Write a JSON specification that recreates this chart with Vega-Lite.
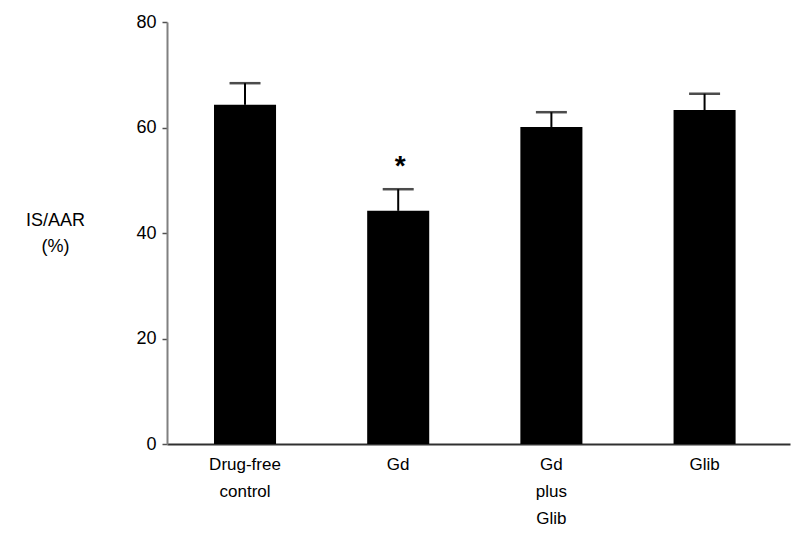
{
  "$schema": "https://vega.github.io/schema/vega-lite/v6.json",
  "autosize": "none",
  "width": 623,
  "height": 422,
  "padding": {"left": 167, "top": 22, "right": 10, "bottom": 100},
  "background": "white",
  "config": {
    "view": {"stroke": null},
    "font": "Liberation Sans"
  },
  "data": {
    "values": [
      {"group": "Drug-free control", "value": 64.3, "err": 68.4, "sig": ""},
      {"group": "Gd", "value": 44.2, "err": 48.3, "sig": "*"},
      {"group": "Gd plus Glib", "value": 60.1, "err": 62.9, "sig": ""},
      {"group": "Glib", "value": 63.3, "err": 66.4, "sig": ""}
    ]
  },
  "encoding": {
    "x": {
      "field": "group",
      "type": "nominal",
      "sort": null,
      "scale": {"paddingInner": 0.595, "paddingOuter": 0.331, "align": 0.4635},
      "axis": {
        "title": null,
        "labelAngle": 0,
        "ticks": false,
        "domainColor": "#303030",
        "domainWidth": 2,
        "labelFont": "Liberation Sans",
        "labelFontSize": 17,
        "labelColor": "black",
        "labelBaseline": "top",
        "labelPadding": 12,
        "labelLineHeight": 27,
        "labelExpr": "datum.value == 'Drug-free control' ? ['Drug-free', 'control'] : datum.value == 'Gd plus Glib' ? ['Gd', 'plus', 'Glib'] : datum.value"
      }
    }
  },
  "layer": [
    {
      "mark": {"type": "bar", "color": "black"},
      "encoding": {
        "y": {
          "field": "value",
          "type": "quantitative",
          "scale": {"domain": [0, 80], "nice": false},
          "axis": {
            "values": [0, 20, 40, 60, 80],
            "grid": false,
            "domainColor": "#808080",
            "domainWidth": 2,
            "tickColor": "#505050",
            "tickSize": 5,
            "tickWidth": 1.5,
            "labelFont": "Liberation Sans",
            "labelFontSize": 18,
            "labelColor": "black",
            "labelPadding": 6,
            "title": ["IS/AAR", "(%)"],
            "titleAngle": 0,
            "titleFont": "Liberation Sans",
            "titleFontSize": 18,
            "titleFontWeight": "normal",
            "titleColor": "black",
            "titleAlign": "center",
            "titleBaseline": "top",
            "titleLineHeight": 26,
            "titleX": -112,
            "titleY": 189
          }
        }
      }
    },
    {
      "mark": {"type": "rule", "color": "black", "strokeWidth": 2},
      "encoding": {
        "y": {"field": "value", "type": "quantitative"},
        "y2": {"field": "err"}
      }
    },
    {
      "mark": {"type": "tick", "color": "black", "size": 31, "thickness": 2.5},
      "encoding": {
        "y": {"field": "err", "type": "quantitative"}
      }
    },
    {
      "mark": {"type": "text", "fontSize": 28, "fontWeight": "bold", "baseline": "alphabetic", "dy": -14, "dx": 2, "color": "black"},
      "encoding": {
        "y": {"field": "err", "type": "quantitative"},
        "text": {"field": "sig"}
      }
    }
  ]
}
